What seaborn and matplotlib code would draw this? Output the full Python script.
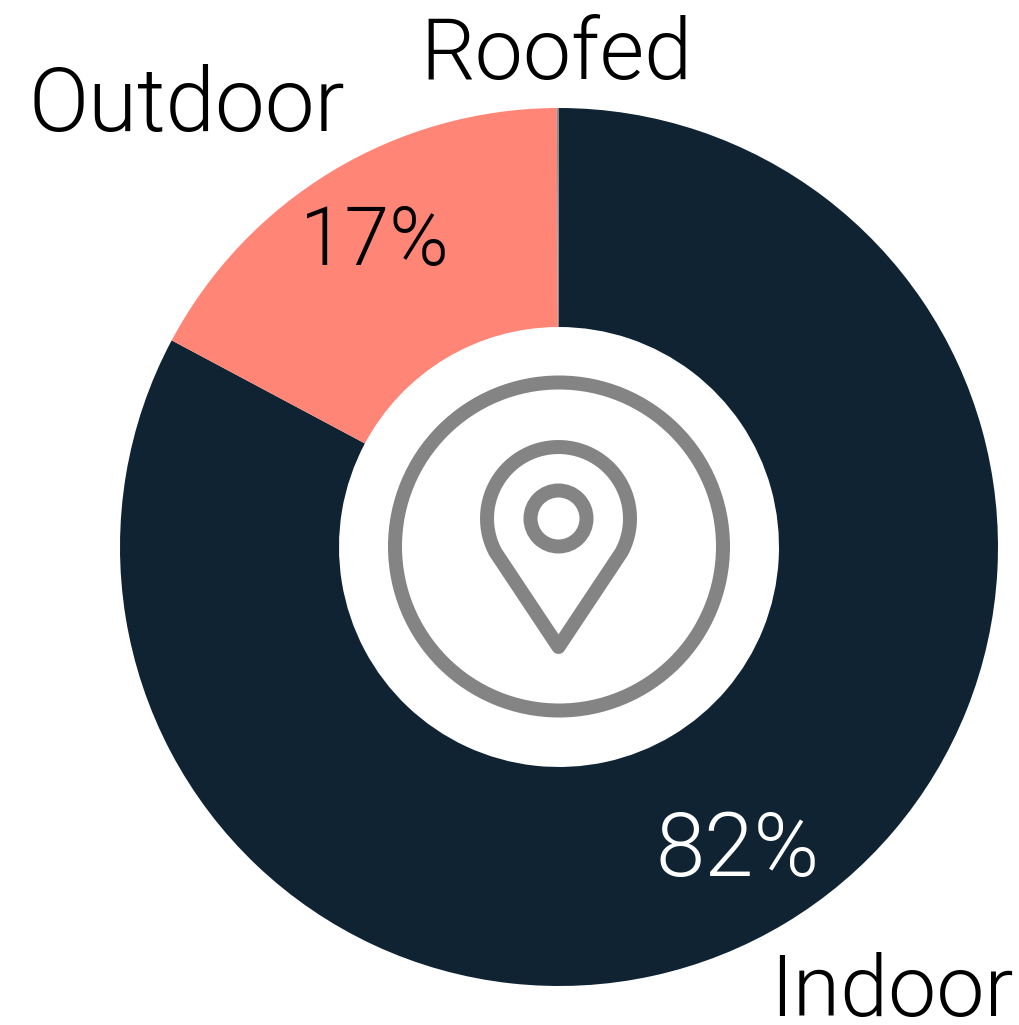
import numpy as np
import matplotlib
matplotlib.use("Agg")
import matplotlib.pyplot as plt
from matplotlib.patches import Circle, Polygon
import seaborn as sns

# values, slices run clockwise from the top
categories = ["Indoor", "Outdoor", "Roofed"]
shares = [82.8, 17.12, 0.08]
share_labels = ["82%", "17%", ""]
slice_colors = ["#0F2333", "#FF8577", "#8C8C8C"]

W, H = 1020, 1025
CX, CY = 559, 547
R_OUT, R_IN = 439, 220
ICON = "#848484"

sns.set_theme(style="white")
plt.rcParams["font.family"] = ["Roboto", "DejaVu Sans"]
plt.rcParams["font.weight"] = 300

fig = plt.figure(figsize=(W / 100, H / 100), dpi=100)

ax = fig.add_axes([(CX - R_OUT) / W, (H - CY - R_OUT) / H, 2 * R_OUT / W, 2 * R_OUT / H])
ax.pie(shares, colors=sns.color_palette(slice_colors), startangle=90, counterclock=False,
       radius=1, wedgeprops={"width": 1 - R_IN / R_OUT, "linewidth": 0})
ax.set_xlim(-1, 1)
ax.set_ylim(-1, 1)
ax.axis("off")

# overlay in picture pixels for the labels and the pin icon
ov = fig.add_axes([0, 0, 1, 1])
ov.set_xlim(0, W)
ov.set_ylim(H, 0)
ov.axis("off")

ov.text(556, 79, categories[2], fontsize=62, color="black", ha="center", va="baseline")
ov.text(187, 131, categories[1], fontsize=64, color="black", ha="center", va="baseline")
ov.text(892, 1016, categories[0], fontsize=62, color="black", ha="center", va="baseline")
ov.text(374, 265, share_labels[1], fontsize=58, color="black", ha="center", va="baseline")
ov.text(738, 876, share_labels[0], fontsize=64, color="white", ha="center", va="baseline")

lw = 14 * 72 / 100
ov.add_patch(Circle((559, 546.5), 164, fill=False, ec=ICON, lw=lw))
ov.add_patch(Circle((558.5, 518.5), 28, fill=False, ec=ICON, lw=lw))

t = np.radians(np.linspace(207.8, -27.8, 60))
head_x = 558.5 + 71.5 * np.cos(t)
head_y = 518.5 - 71.5 * np.sin(t)
pts = list(zip(head_x, head_y)) + [(558.5, 647)]
ov.add_patch(Polygon(pts, closed=True, fill=False, ec=ICON, lw=lw, joinstyle="round"))

fig.savefig("out.png", dpi=100)
plt.close()
